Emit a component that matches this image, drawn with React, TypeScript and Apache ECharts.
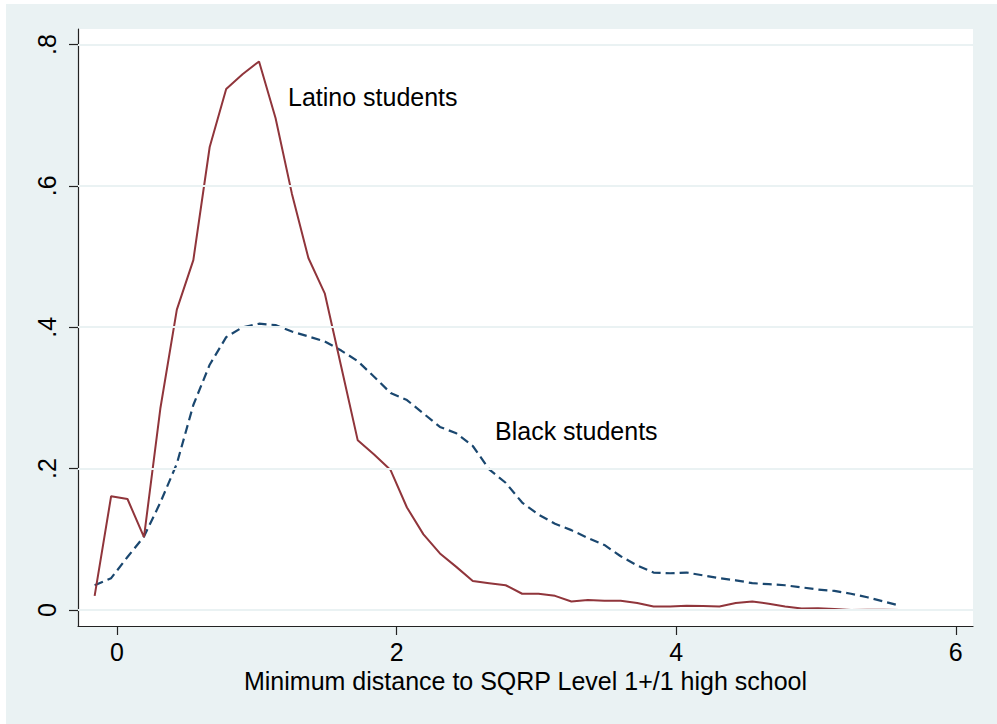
import React, { useEffect, useRef } from "react";
import * as echarts from "echarts";

const xGrid = [-0.160,-0.042,0.075,0.193,0.310,0.428,0.546,0.663,0.781,0.898,1.016,1.134,1.251,1.369,1.486,1.604,1.722,1.839,1.957,2.074,2.192,2.310,2.427,2.545,2.662,2.780,2.898,3.015,3.133,3.250,3.368,3.486,3.603,3.721,3.838,3.956,4.074,4.191,4.309,4.426,4.544,4.662,4.779,4.897,5.014,5.132,5.250,5.367,5.485,5.602];

const latino = [0.020,0.161,0.157,0.103,0.285,0.425,0.495,0.655,0.737,0.758,0.776,0.696,0.589,0.498,0.448,0.344,0.240,0.220,0.198,0.145,0.107,0.080,0.061,0.041,0.038,0.035,0.023,0.023,0.020,0.012,0.014,0.013,0.013,0.010,0.005,0.005,0.006,0.0055,0.005,0.010,0.012,0.009,0.005,0.002,0.0025,0.0015,0.000,0.0005,0.0003,0.000];

const black = [0.035,0.045,0.075,0.104,0.152,0.207,0.290,0.347,0.386,0.400,0.405,0.403,0.394,0.387,0.380,0.367,0.352,0.330,0.307,0.297,0.278,0.259,0.250,0.232,0.199,0.180,0.152,0.135,0.122,0.113,0.102,0.092,0.076,0.063,0.053,0.052,0.053,0.049,0.045,0.042,0.038,0.0365,0.035,0.032,0.029,0.027,0.023,0.018,0.012,0.006];

const xTicks = [0, 2, 4, 6];
const yTicks = [0, 0.2, 0.4, 0.6, 0.8];
const yTickLabels = ["0", ".2", ".4", ".6", ".8"];
const xTitle = "Minimum distance to SQRP Level 1+/1 high school";
const latinoLabel = "Latino students";
const blackLabel = "Black students";

const FONT = "'Liberation Sans', Arial, Helvetica, sans-serif";
const BG = "#EAF2F3";

export default function App() {
  const ref = useRef<HTMLDivElement>(null);
  useEffect(() => {
    if (!ref.current) return;
    const chart = echarts.init(ref.current, null, { renderer: "svg" });
    chart.setOption({
      animation: false,
      backgroundColor: "transparent",
      textStyle: { fontFamily: FONT },
      grid: {
        left: 72,
        top: 25,
        right: 24,
        bottom: 98,
        show: true,
        backgroundColor: "#ffffff",
        borderWidth: 0,
        containLabel: false,
      },
      xAxis: {
        type: "value",
        min: -0.279,
        max: 6.123,
        name: xTitle,
        nameLocation: "middle",
        nameGap: 37,
        nameTextStyle: { fontSize: 25, color: "#000", fontFamily: FONT },
        axisLine: { show: true, onZero: false, lineStyle: { color: "#222", width: 1.2 } },
        axisTick: { show: true, length: 9, customValues: xTicks, lineStyle: { color: "#222", width: 1.2 } },
        axisLabel: { show: true, customValues: xTicks, margin: 13, fontSize: 25, color: "#000", fontFamily: FONT },
        splitLine: { show: false },
      },
      yAxis: {
        type: "value",
        min: -0.02263,
        max: 0.8219,
        axisLine: { show: true, onZero: false, lineStyle: { color: "#222", width: 1.2 } },
        axisTick: { show: true, length: 9, customValues: yTicks, lineStyle: { color: "#222", width: 1.2 } },
        axisLabel: {
          show: true,
          customValues: yTicks,
          rotate: 90,
          margin: 19,
          fontSize: 25,
          color: "#000",
          fontFamily: FONT,
          formatter: (v: number) => {
            const idx = yTicks.findIndex((t) => Math.abs(t - v) < 1e-6);
            return idx >= 0 ? yTickLabels[idx] : "";
          },
        },
        splitLine: { show: false },
      },
      series: [
        {
          type: "line",
          data: [],
          silent: true,
          markLine: {
            silent: true,
            symbol: "none",
            label: { show: false },
            lineStyle: { color: BG, width: 2, type: "solid" },
            data: yTicks.map((v) => ({ yAxis: v })),
          },
        },
        {
          name: "Black students",
          type: "line",
          data: xGrid.map((x, i) => [x, black[i]]),
          showSymbol: false,
          symbol: "none",
          lineStyle: { color: "#1A476F", width: 2.2, type: [9, 5] },
        },
        {
          name: "Latino students",
          type: "line",
          data: xGrid.map((x, i) => [x, latino[i]]),
          showSymbol: false,
          symbol: "none",
          lineStyle: { color: "#90353B", width: 2, type: "solid" },
        },
      ],
      graphic: [
        {
          type: "text",
          x: 282,
          y: 92.5,
          style: { text: latinoLabel, fontSize: 25, fontFamily: FONT, fill: "#000", align: "left", verticalAlign: "middle" },
        },
        {
          type: "text",
          x: 489,
          y: 427,
          style: { text: blackLabel, fontSize: 25, fontFamily: FONT, fill: "#000", align: "left", verticalAlign: "middle" },
        },
      ],
    });
    return () => chart.dispose();
  }, []);
  return (
    <div style={{ position: "fixed", left: 0, top: 0, width: 997, height: 724, background: "#ffffff" }}>
      <div
        ref={ref}
        style={{ position: "absolute", left: 6, top: 4, width: 991, height: 720, background: BG }}
      />
    </div>
  );
}
